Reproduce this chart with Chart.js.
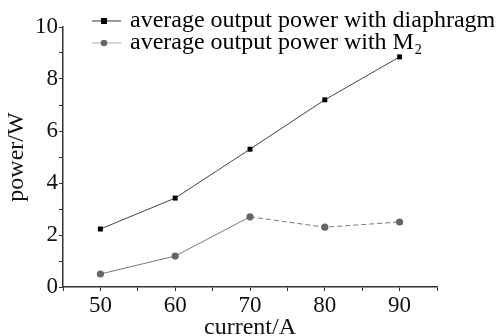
<!DOCTYPE html>
<html><head><meta charset="utf-8">
<script src="https://cdn.jsdelivr.net/npm/chart.js@4"></script>
<style>html,body{margin:0;padding:0;background:#fff}</style>
</head><body><canvas id="c" width="497" height="336"></canvas>
<script>
const currents = [50, 60, 70, 80, 90];
const diaphragmPower = [2.23, 3.42, 5.3, 7.2, 8.85];
const m2Power = [0.5, 1.19, 2.7, 2.3, 2.5];
const seriesNames = ['average output power with diaphragm', 'average output power with M\u2082'];
const xTitle = 'current/A';
const yTitle = 'power/W';

function legendIcon(lineColor, markerColor, shape) {
  const c = document.createElement('canvas');
  c.width = 34; c.height = 10;
  const g = c.getContext('2d');
  g.strokeStyle = lineColor; g.lineWidth = 1.2;
  g.beginPath(); g.moveTo(0, 5); g.lineTo(34, 5); g.stroke();
  g.fillStyle = markerColor;
  if (shape === 'rect') g.fillRect(14, 2, 6, 6);
  else { g.beginPath(); g.arc(17, 5, 3.3, 0, Math.PI * 2); g.fill(); }
  return c;
}
const icons = [legendIcon('#333', '#000', 'rect'), legendIcon('#aaa', '#666', 'circle')];

const serif = 'Liberation Serif';
const FS = 23;
const LFS = 24;

const legendMove = {
  id: 'legendMove',
  afterLayout(chart) {
    const lg = chart.legend;
    if (!lg) return;
    const pad = lg.options.labels.padding;
    lg.left = 90 - pad;
    lg.top = 9 - pad;
    lg.right = 497;
    lg.bottom = lg.top + 80;
    lg.width = lg.right - lg.left;
    lg.height = 80;
  }
};

new Chart(document.getElementById('c'), {
  type: 'line',
  data: {
    datasets: [
      {
        label: seriesNames[0],
        data: currents.map((x, i) => ({x, y: diaphragmPower[i]})),
        borderColor: '#444', borderWidth: 1,
        pointStyle: 'rect', pointRadius: 3.5, pointBackgroundColor: '#000', pointBorderColor: '#000', pointBorderWidth: 0
      },
      {
        label: seriesNames[1],
        data: currents.map((x, i) => ({x, y: m2Power[i]})),
        borderColor: '#777', borderWidth: 1,
        segment: { borderDash: ctx => ctx.p0DataIndex >= 2 ? [5, 3] : [] },
        pointStyle: 'circle', pointRadius: 3.6, pointBackgroundColor: '#666', pointBorderColor: '#666', pointBorderWidth: 0
      }
    ]
  },
  options: {
    responsive: false, maintainAspectRatio: false, animation: false,
    devicePixelRatio: 1,
    layout: { padding: { top: 27, right: 60, left: 0, bottom: 0 } },
    plugins: {
      tooltip: { enabled: false },
      legend: {
        position: 'chartArea', align: 'start',
        labels: {
          usePointStyle: true, pointStyleWidth: 28, padding: -2,
          color: '#111', font: { family: serif, size: LFS },
          generateLabels: chart => chart.data.datasets.map((d, i) => ({
            text: d.label, pointStyle: icons[i], datasetIndex: i, hidden: false, lineWidth: 0, fillStyle: 'transparent', strokeStyle: 'transparent'
          }))
        }
      }
    },
    scales: {
      x: {
        type: 'linear', min: 45, max: 95,
        afterFit: s => { s.height = 49; },
        border: { display: true, color: '#333', width: 1.5 },
        grid: { drawOnChartArea: false, drawTicks: true, tickLength: 4, tickColor: '#333' },
        ticks: { stepSize: 5, autoSkip: false, maxRotation: 0, padding: 1, color: '#111', font: { family: serif, size: FS },
          callback: v => (v % 10 === 0 ? String(v) : '') },
        title: { display: true, text: xTitle, color: '#111', font: { family: serif, size: LFS, lineHeight: 1 }, padding: { top: 0, bottom: -4 } }
      },
      y: {
        min: 0, max: 10,
        afterFit: s => { s.width = 63; },
        border: { display: true, color: '#333', width: 1.5 },
        grid: { drawOnChartArea: false, drawTicks: true, tickLength: 4, tickColor: '#333' },
        ticks: { stepSize: 1, autoSkip: false, padding: 1, color: '#111', font: { family: serif, size: FS },
          callback: v => (v % 2 === 0 ? String(v) : '') },
        title: { display: true, text: yTitle, color: '#111', font: { family: serif, size: LFS, lineHeight: 1 }, padding: { top: 5, bottom: 0 } }
      }
    }
  },
  plugins: [legendMove]
});
</script>
</body></html>
